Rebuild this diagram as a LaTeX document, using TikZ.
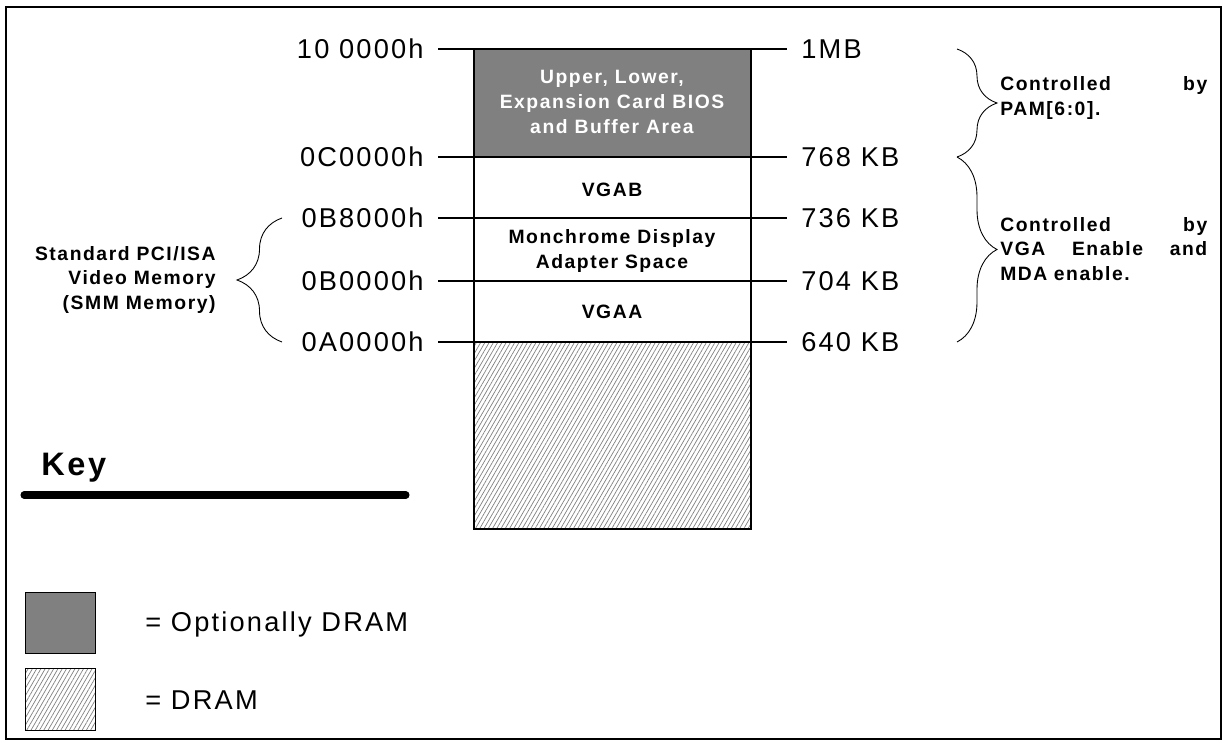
\documentclass[tikz,border=0pt]{standalone}
\usepackage{fontspec}
\setmainfont{Liberation Sans}[LetterSpace=8]
\usetikzlibrary{decorations.pathreplacing,patterns.meta}
\tikzset{
  addr/.style={font=\fontsize{15.5}{18}\selectfont, inner sep=0},
  area/.style={font=\bfseries\fontsize{11}{14}\selectfont, align=center, inner sep=0},
  tick/.style={black, line width=1.2pt},
  membrace/.style={decorate, decoration={brace, amplitude=#1}, line width=.5pt},
  dram/.style={pattern={Lines[angle=60,distance=2.1pt,line width=.4pt]}, pattern color=gray},
}

\begin{document}
\begin{tikzpicture}[x=0.02cm, y=-0.02cm]
\useasboundingbox (0,0) rectangle (1228,747);
\draw[line width=1.1pt] (6,7) rectangle (1221,739);

% memory column
\fill[gray] (474,49) rectangle (751,157);
\path[dram] (474,342) rectangle (751,529);
\draw[line width=.6pt] (474,49) rectangle (751,529);
\foreach \y in {157,218,281,342} {
 \draw[line width=.6pt] (474,\y) -- (751,\y);
}

\foreach \y/\ad/\sz [count=\i] in {49/10 0000h/1MB, 157/0C0000h/768 KB, 218/0B8000h/736 KB, 281/0B0000h/704 KB, 342/0A0000h/640 KB} {
 \node[addr, anchor=east] (ad\i) at (424,\y) {\ad};
 \node[addr, anchor=west] (sz\i) at (801,\y) {\sz};
 \draw[tick] (438,\y) -- (474,\y);
 \draw[tick] (751,\y) -- (787,\y);
}

\node[area, text=white] (bios) at (612,102) {Upper, Lower,\\Expansion Card BIOS\\and Buffer Area};
\node[area] (vgab) at (612,190) {VGAB};
\node[area] (mda) at (612,251) {Monchrome Display\\Adapter Space};
\node[area] (vgaa) at (612,312) {VGAA};

% braces
\draw[membrace=.8cm] (957,49) -- (957,157);
\draw[membrace=.8cm] (957,157) -- (957,342);
\draw[membrace=.9cm] (282,342) -- (282,218);
\node[area, align=left, text width=4.14cm, anchor=west] (pam) at (1000,98) {Controlled\hfill by\\PAM[6:0].};
\node[area, align=left, text width=4.14cm, anchor=west] (vga) at (1000,249) {Controlled\hfill by\\VGA\hfill Enable\hfill and\\MDA enable.};
\node[area, align=right, anchor=east] (smm) at (216,280) {Standard PCI/ISA\\Video Memory\\(SMM Memory)};

% key
\node[font=\bfseries\fontsize{18.5}{22}\selectfont, anchor=west, inner sep=0] (key) at (41,468) {Key};
\draw[line width=4pt, line cap=round] (24,495) -- (406,495);
\draw[fill=gray, line width=.5pt] (25,592) rectangle (95,653);
\draw[dram, line width=.5pt] (25,668) rectangle (95,730);
\node[addr, anchor=west] (optdram) at (145,624) {= Optionally DRAM};
\node[addr, anchor=west] (dramtxt) at (145,700) {= DRAM};
\end{tikzpicture}
\end{document}
